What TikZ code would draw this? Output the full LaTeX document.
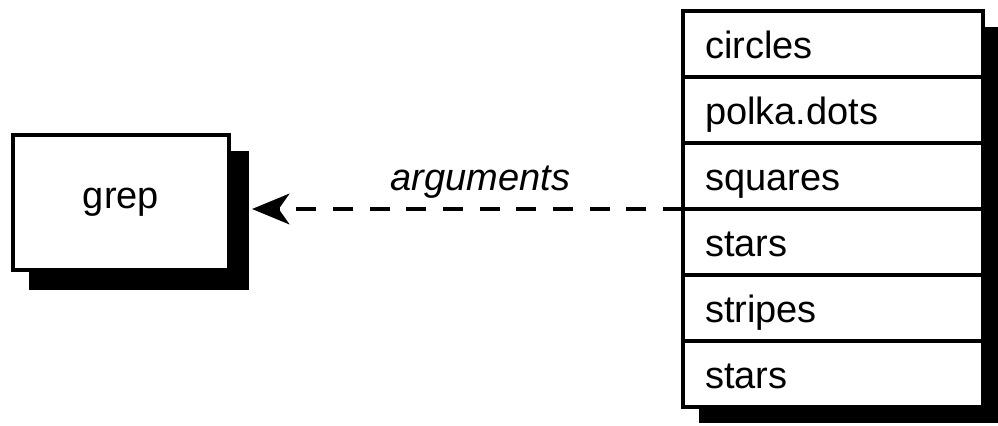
\documentclass[tikz,border=0pt]{standalone}
\usepackage{fontspec}
\setmainfont{Liberation Sans}
\usetikzlibrary{positioning,backgrounds,arrows.meta}

\begin{document}
\begin{tikzpicture}[x=0.75pt,y=-0.75pt,font=\fontsize{28.5}{34}\selectfont,
  box/.style={draw,line width=2.6pt,fill=white},
  row/.style={box,outer sep=0pt,minimum width=225pt,minimum height=49.5pt,
    text width=192pt,inner xsep=16.5pt,align=left,text height=27pt,text depth=5.2pt}]
\clip (0,0) rectangle (998,425);
\node[box,minimum width=162pt,minimum height=101.25pt] (grep) at (121,202.5) {grep};
\node[row] (r1) at (833,44) {circles};
\foreach \i/\prev/\rtext in {2/1/polka.dots, 3/2/squares, 4/3/stars, 5/4/stripes, 6/5/stars}
  \node[row,below=0pt of r\prev] (r\i) {\rtext};
\begin{scope}[on background layer]
\fill ([shift={(18,18)}]grep.north west) rectangle ([shift={(18,18)}]grep.south east);
\fill ([shift={(16,16)}]r1.north west) rectangle ([shift={(16,16)}]r6.south east);
\end{scope}
\coordinate (tip) at ([xshift=16pt]grep.east |- r3.south west);
\draw[line width=3pt,dash pattern=on 15pt off 12.5pt,
  -{Stealth[length=28pt,width=23pt,inset=8pt]}]
  (r3.south west) -- node[above=3pt,pos=0.47,font=\fontsize{28.5}{34}\selectfont\itshape] {arguments} (tip);
\end{tikzpicture}
\end{document}
